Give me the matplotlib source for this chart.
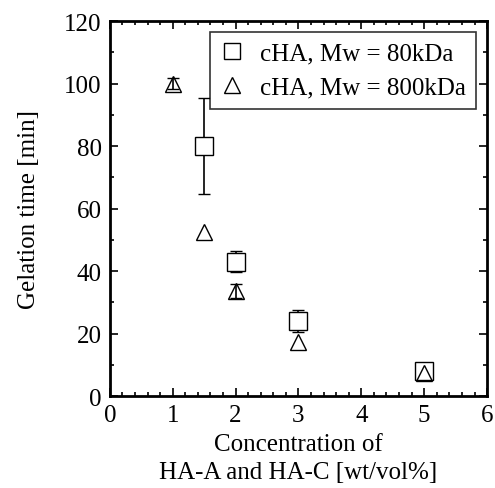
import matplotlib.pyplot as plt
from matplotlib.lines import Line2D
from matplotlib.ticker import MultipleLocator

# concentration [wt/vol%]
conc_80 = [1.5, 2, 3, 5]
time_80 = [80, 43, 24, 8]
err_80 = [15.5, 3.3, 3.5, 1.0]

conc_800 = [1, 1.5, 2, 3, 5]
time_800 = [100, 52.5, 33.6, 17.3, 7.3]
err_800 = [1.8, 0.0, 2.2, 0.0, 0.0]

plt.rcParams["font.family"] = ["Liberation Serif", "DejaVu Serif"]
plt.rcParams["font.size"] = 18

fig = plt.figure(figsize=(4.95, 4.89), dpi=100)
ax = fig.add_axes([0.222, 0.188, 0.762, 0.767])

ax.errorbar(conc_80, time_80, yerr=err_80, fmt="none", ecolor="black",
            elinewidth=1.2, capsize=4)
ax.plot(conc_80, time_80, "s", ms=13, mfc="white", mec="black", mew=1.0)

idx = [i for i, e in enumerate(err_800) if e > 0]
ax.errorbar([conc_800[i] for i in idx], [time_800[i] for i in idx],
            yerr=[err_800[i] for i in idx], fmt="none", ecolor="black",
            elinewidth=1.2, capsize=4)
ax.plot(conc_800, time_800, "^", ms=12, mfc="none", mec="black", mew=1.0)

ax.set_xlim(0, 6)
ax.set_ylim(0, 120)
ax.xaxis.set_major_locator(MultipleLocator(1))
ax.xaxis.set_minor_locator(MultipleLocator(0.2))
ax.yaxis.set_major_locator(MultipleLocator(20))
ax.yaxis.set_minor_locator(MultipleLocator(10))
ax.tick_params(which="both", direction="in", top=True, right=True, width=1.2,
               pad=6)
ax.tick_params(which="major", length=6)
ax.tick_params(which="minor", length=3)
for s in ax.spines.values():
    s.set_linewidth(2)

ax.set_xlabel("Concentration of\nHA-A and HA-C [wt/vol%]", linespacing=1.35,
              labelpad=5)
ax.set_ylabel("Gelation time [min]", labelpad=17)

handles = [
    Line2D([], [], ls="none", marker="s", ms=12, mfc="white", mec="black", mew=1.0),
    Line2D([], [], ls="none", marker="^", ms=12, mfc="none", mec="black", mew=1.0),
]
leg = ax.legend(handles, ["cHA, Mw = 80kDa", "cHA, Mw = 800kDa"],
                loc="upper right", fancybox=False, edgecolor="black",
                handletextpad=0.6, handlelength=1.0, borderpad=0.4,
                labelspacing=0.45, borderaxespad=0.45, fontsize=18)
leg.get_frame().set_linewidth(1.2)

fig.savefig("out.png", dpi=100)
